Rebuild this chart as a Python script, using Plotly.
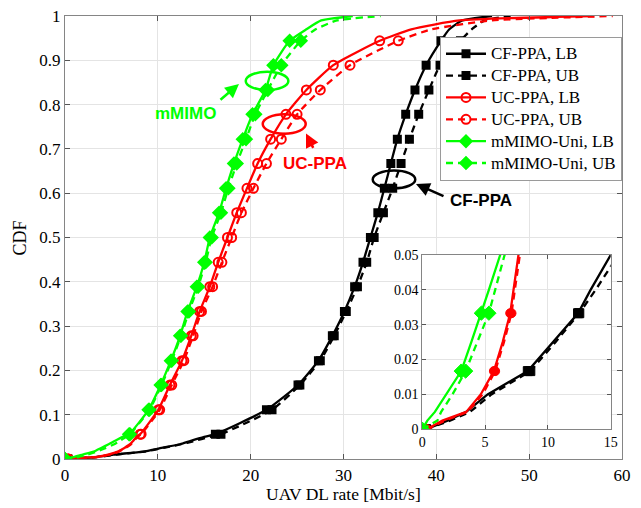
import plotly.graph_objects as go

# ---------------- data ----------------
# CDF levels
TAIL_CDF = [0, 0.0025, 0.005, 0.01, 0.0167, 0.025, 0.0333, 0.04, 0.05]
MAIN_CDF = [0.056, 0.111, 0.167, 0.222, 0.278, 0.333, 0.389, 0.444, 0.5,
            0.556, 0.611, 0.667, 0.722, 0.778, 0.833, 0.889, 0.944]
TOP_CDF = [0.97, 0.99, 1.0]

# UAV DL rate [Mbit/s] at those CDF levels
cf_lb_tail = [0.3, 2.0, 3.5, 5.2, 8.4, 10.4, 12.4, 13.4, 15.0]
cf_lb_main = [16.2, 21.7, 25.1, 27.3, 28.8, 30.1, 31.2, 32.1, 32.9, 33.7,
              34.4, 35.1, 35.8, 36.7, 37.7, 38.9, 40.5]
cf_lb_top = [41.4, 42.8, 46.0]

cf_ub_tail = [0.3, 2.2, 3.8, 5.5, 8.6, 10.6, 12.5, 13.8, 15.6]
cf_ub_main = [16.8, 22.3, 25.3, 27.5, 29.0, 30.3, 31.5, 32.5, 33.3, 34.3,
              35.3, 36.2, 37.1, 38.1, 39.2, 40.4, 42.6]
cf_ub_top = [43.8, 45.2, 48.0]

uc_lb_tail = [0.35, 1.6, 3.5, 4.65, 5.7, 6.4, 7.0, 7.3, 7.7]
uc_lb_main = [8.1, 10.05, 11.3, 12.6, 13.6, 14.5, 15.6, 16.5, 17.5, 18.5,
              19.6, 20.75, 22.15, 23.8, 26.0, 28.9, 33.9]
uc_lb_top = [37.3, 42.5, 57.0]

uc_ub_tail = [0.35, 1.8, 3.6, 4.8, 5.8, 6.5, 7.1, 7.4, 7.8]
uc_ub_main = [8.2, 10.2, 11.5, 12.8, 13.8, 14.7, 15.9, 16.9, 17.95, 19.0,
              20.3, 21.7, 23.3, 25.0, 27.5, 30.7, 35.9]
uc_ub_top = [39.5, 46.0, 59.0]

mm_lb_tail = [0.0, 0.4, 1.0, 1.9, 3.1, 3.9, 4.7, 5.3, 6.2]
mm_lb_main = [6.9, 9.0, 10.3, 11.4, 12.4, 13.2, 14.2, 15.0, 15.6, 16.6,
              17.35, 18.2, 19.15, 20.2, 21.6, 22.45, 24.2]
mm_lb_top = [26.0, 27.6, 31.0]

mm_ub_tail = [0.0, 1.2, 1.5, 2.4, 3.45, 4.4, 5.3, 5.8, 6.6]
mm_ub_main = [7.0, 9.1, 10.4, 11.5, 12.5, 13.35, 14.35, 15.15, 15.8, 16.8,
              17.6, 18.5, 19.5, 20.5, 21.85, 23.3, 25.4]
mm_ub_top = [27.0, 29.3, 34.0]

INSET_MARK_IDX = [0, 4, 6]   # tail points that carry markers in the inset

series_names = ["CF-PPA, LB", "CF-PPA, UB", "UC-PPA, LB", "UC-PPA, UB",
                "mMIMO-Uni, LB", "mMIMO-Uni, UB"]

x_ticks_main = [0, 10, 20, 30, 40, 50, 60]
y_ticks_main = [0, 0.1, 0.2, 0.3, 0.4, 0.5, 0.6, 0.7, 0.8, 0.9, 1]
x_ticks_inset = [0, 5, 10, 15]
y_ticks_inset = [0, 0.01, 0.02, 0.03, 0.04, 0.05]
INSET_XRANGE = [0, 15]
INSET_YRANGE = [0, 0.05]

# ---------------- styles ----------------
series = [
    (series_names[0], cf_lb_tail, cf_lb_main, cf_lb_top, "#000000", "solid", "square", 7, 9),
    (series_names[1], cf_ub_tail, cf_ub_main, cf_ub_top, "#000000", "7px,5px", "square", 7, 9),
    (series_names[2], uc_lb_tail, uc_lb_main, uc_lb_top, "#ff0000", "solid", "circle-open", 9, 9),
    (series_names[3], uc_ub_tail, uc_ub_main, uc_ub_top, "#ff0000", "7px,5px", "circle-open", 9, 9),
    (series_names[4], mm_lb_tail, mm_lb_main, mm_lb_top, "#00ff00", "solid", "diamond", 9, 11),
    (series_names[5], mm_ub_tail, mm_ub_main, mm_ub_top, "#00ff00", "7px,5px", "diamond", 9, 11),
]

SERIF = "Liberation Serif"
SANS = "Liberation Sans"
AXCOL = "#858585"
GRIDCOL = "#e4e4e4"

fig = go.Figure()

for name, tail, main, top, col, dash, sym, msz, isz in series:
    xs = tail + main + top
    ys = TAIL_CDF + MAIN_CDF + TOP_CDF
    # main line
    fig.add_trace(go.Scatter(x=xs, y=ys, mode="lines", showlegend=False,
                             line=dict(color=col, width=2.3, dash=dash, shape="spline", smoothing=0.5),
                             xaxis="x", yaxis="y", hoverinfo="skip"))
    # main markers
    mx = [tail[0]] + main
    my = [TAIL_CDF[0]] + MAIN_CDF
    fig.add_trace(go.Scatter(x=mx, y=my, mode="markers", showlegend=False,
                             marker=dict(symbol=sym, size=msz, color=col,
                                         line=dict(color=col, width=2)),
                             xaxis="x", yaxis="y", hoverinfo="skip"))
    # inset line
    fig.add_trace(go.Scatter(x=xs, y=ys, mode="lines", showlegend=False,
                             line=dict(color=col, width=2.3, dash=dash),
                             xaxis="x2", yaxis="y2", hoverinfo="skip"))
    ix = [tail[i] for i in INSET_MARK_IDX]
    iy = [TAIL_CDF[i] for i in INSET_MARK_IDX]
    fig.add_trace(go.Scatter(x=ix, y=iy, mode="markers", showlegend=False,
                             marker=dict(symbol=sym.replace("-open", ""), size=isz, color=col,
                                         line=dict(color=col, width=1)),
                             xaxis="x2", yaxis="y2", hoverinfo="skip"))
    # legend entry (text drawn a bit larger than the legend's row height font)
    fig.add_trace(go.Scatter(x=[None], y=[None], mode="lines+markers",
                             name='<span style="font-size:17px">%s</span>' % name,
                             line=dict(color=col, width=2.3, dash=dash),
                             marker=dict(symbol=sym, size=msz, color=col,
                                         line=dict(color=col, width=2)),
                             xaxis="x", yaxis="y"))

axis_common = dict(showline=True, linecolor=AXCOL, linewidth=1.2, mirror="ticks",
                   ticks="inside", tickcolor="#555555", showgrid=True, gridcolor=GRIDCOL,
                   gridwidth=1, zeroline=False, automargin=False, ticklabeloverflow="allow")

# the page places the figure 8 px from the top-left corner, so the figure is
# 8 px smaller and its left/top margins 8 px narrower
fig.update_layout(
    width=633, height=500,
    margin=dict(l=57, r=19, t=8, b=49, autoexpand=False),
    paper_bgcolor="white", plot_bgcolor="white",
    showlegend=True,
    legend=dict(x=1, xanchor="right", y=0.953, yanchor="top",
                bgcolor="white", bordercolor="#9a9a9a", borderwidth=1,
                font=dict(family=SERIF, size=14.5, color="black"),
                tracegroupgap=0, itemwidth=40),
    xaxis=dict(range=[0, 60], tickvals=x_ticks_main, ticklen=5,
               tickfont=dict(family=SERIF, size=17, color="black"), **axis_common),
    yaxis=dict(range=[0, 1], tickvals=y_ticks_main, ticklen=5,
               tickfont=dict(family=SERIF, size=17, color="black"), **axis_common),
    xaxis2=dict(domain=[0.6415, 0.9797], anchor="y2", range=INSET_XRANGE,
                tickvals=x_ticks_inset, ticklen=4,
                tickfont=dict(family=SERIF, size=14, color="black"), **axis_common),
    yaxis2=dict(domain=[0.067, 0.4605], anchor="x2", range=INSET_YRANGE,
                tickvals=y_ticks_inset, ticklen=4,
                tickfont=dict(family=SERIF, size=14, color="black"), **axis_common),
)

# white background of the inset
fig.add_shape(type="rect", xref="x2", yref="y2",
              x0=INSET_XRANGE[0], x1=INSET_XRANGE[1], y0=INSET_YRANGE[0], y1=INSET_YRANGE[1],
              fillcolor="white", line=dict(width=0), layer="below")

# ellipses
ellipses = [
    ("#00ff00", 19.47, 24.06, 0.833, 0.874),
    ("#ff0000", 21.3, 25.93, 0.734, 0.778),
    ("#000000", 33.15, 37.73, 0.611, 0.651),
]
for col, x0, x1, y0, y1 in ellipses:
    fig.add_shape(type="circle", xref="x", yref="y", x0=x0, x1=x1, y0=y0, y1=y1,
                  line=dict(color=col, width=2.5), layer="above")

# labels + arrows
labels = [
    ("mMIMO", "#00ff00", 13.03, 0.779, 18.74, 0.8465, -20, 17),
    ("UC-PPA", "#ff0000", 26.93, 0.667, 25.96, 0.735, 8, 16),
    ("CF-PPA", "#000000", 44.81, 0.5835, 37.81, 0.621, 29, 13),
]
for txt, col, tx, ty, hx, hy, ax, ay in labels:
    fig.add_annotation(x=tx, y=ty, xref="x", yref="y", text="<b>%s</b>" % txt,
                       showarrow=False, font=dict(family=SANS, size=17, color=col))
    fig.add_annotation(x=hx, y=hy, xref="x", yref="y", text="", showarrow=True,
                       ax=ax, ay=ay, axref="pixel", ayref="pixel",
                       arrowhead=2, arrowsize=1.1, arrowwidth=2.5, arrowcolor=col, standoff=0)

# axis titles
fig.add_annotation(x=0.5, y=-0.078, xref="paper", yref="paper", text="UAV DL rate [Mbit/s]",
                   showarrow=False, yanchor="middle",
                   font=dict(family=SERIF, size=17.5, color="black"))
fig.add_annotation(x=-0.081, y=0.5, xref="paper", yref="paper", text="CDF", textangle=-90,
                   showarrow=False, xanchor="center",
                   font=dict(family=SERIF, size=18, color="black"))

fig.write_html("out.html")
